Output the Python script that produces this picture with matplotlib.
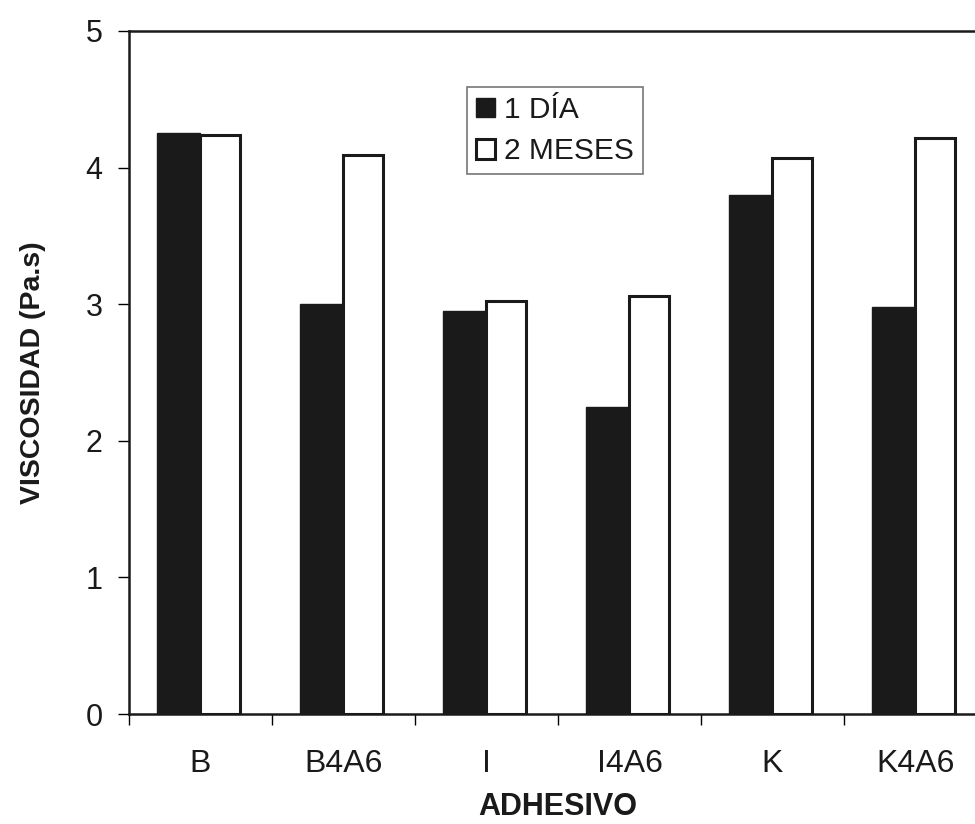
import matplotlib
matplotlib.use("Agg")
import matplotlib.pyplot as plt
import numpy as np

plt.rcParams['font.family'] = ['Liberation Sans', 'DejaVu Sans']

categories = ["B", "B4A6", "I", "I4A6", "K", "K4A6"]
dia_1 = [4.25, 3.00, 2.95, 2.25, 3.80, 2.98]
meses_2 = [4.24, 4.09, 3.02, 3.06, 4.07, 4.22]
y_ticks = [0, 1, 2, 3, 4, 5]

fig = plt.figure(figsize=(9.75, 8.24), dpi=100)
ax = fig.add_axes([129 / 975, 110 / 824, 858 / 975, 683 / 824])

x = np.arange(len(categories))
ax.bar(x - 0.155, dia_1, 0.30, color="#1a1a1a", edgecolor="#1a1a1a", linewidth=1.0,
       label="1 DÍA")
ax.bar(x + 0.135, meses_2, 0.28, color="white", edgecolor="#1a1a1a", linewidth=2.2,
       label="2 MESES")

ax.set_xlim(-0.5, len(categories) - 0.5)
ax.set_ylim(0, 5)
ax.set_yticks(y_ticks)
ax.set_xticks(x)
ax.set_xticklabels(categories)
ax.set_xticks(np.arange(len(categories) + 1) - 0.5, minor=True)
ax.tick_params(axis="x", which="major", length=0, pad=25, labelsize=23,
               labelcolor="#1a1a1a")
ax.tick_params(axis="x", which="minor", length=8, width=1, direction="out")
ax.tick_params(axis="y", length=8, width=1, direction="out", pad=11, labelsize=22,
               labelcolor="#1a1a1a")

for side in ["left", "bottom", "top", "right"]:
    ax.spines[side].set_linewidth(1.8)
    ax.spines[side].set_color("#1a1a1a")

ax.set_ylabel("VISCOSIDAD (Pa.s)", fontsize=20.5, fontweight="bold", color="#1a1a1a")
ax.set_xlabel("ADHESIVO", fontsize=22, fontweight="bold", color="#1a1a1a")
ax.yaxis.set_label_coords(-0.097, 0.5)
ax.xaxis.set_label_coords(0.5, -0.114)

leg = ax.legend(loc="upper left", bbox_to_anchor=(0.394, 0.918), fontsize=21.5,
                frameon=True, fancybox=False, edgecolor="#555555",
                handlelength=0.65, handleheight=0.65, handletextpad=0.3,
                borderpad=0.3, labelspacing=0.45, borderaxespad=0)
for t in leg.get_texts():
    t.set_color("#1a1a1a")
leg.get_frame().set_linewidth(1.2)

fig.savefig("out.png", dpi=100)
